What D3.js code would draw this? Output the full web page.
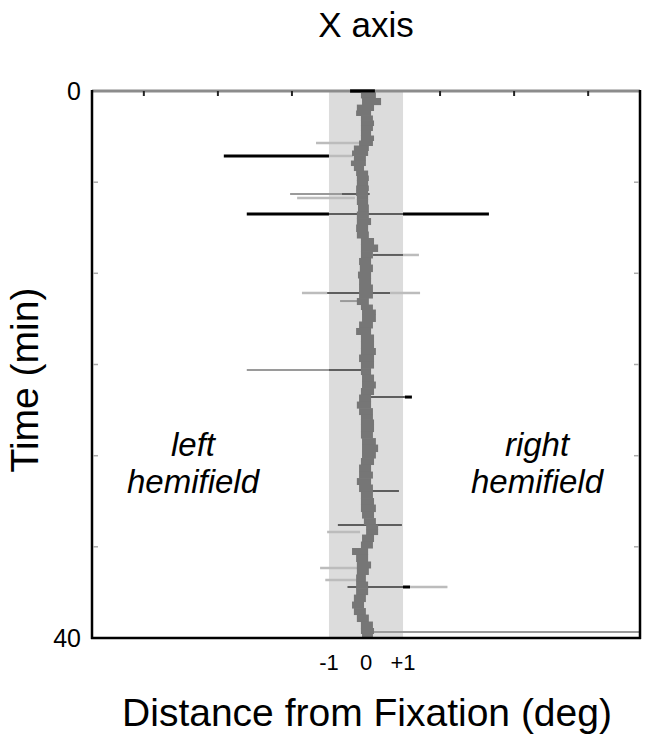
<!DOCTYPE html>
<html>
<head>
<meta charset="utf-8">
<script src="https://cdn.jsdelivr.net/npm/d3@7"></script>
<style>
  html, body { margin: 0; padding: 0; background: #fff; }
  svg { display: block; font-family: "Liberation Sans", Arial, sans-serif; }
</style>
</head>
<body>
<svg id="chart" width="647" height="739"></svg>
<script>
// ---------- data ----------
const xDomain = [-7.4, 7.4];          // degrees
const yDomain = [0, 40];              // minutes
const bandRange = [-1, 1];            // shaded fixation window (deg)
const xTopTicks = [-6, -4, -2, 2, 4, 6];
const xTickLabels = [{v: -1, s: "-1"}, {v: 0, s: "0"}, {v: 1, s: "+1"}];
const yTicks = [6.67, 13.33, 20, 26.67, 33.33];
const yTickLabels = [{v: 0, s: "0"}, {v: 40, s: "40"}];

// main eye-position trace: time (min), left & right extent (deg)
const traceTime = [0.27,0.75,1.24,1.61,1.97,2.34,2.71,3.07,3.44,3.80,4.17,4.53,4.90,5.27,5.63,6.00,6.36,6.73,7.09,7.46,7.82,8.04,8.56,9.07,9.51,10.02,10.53,10.97,11.48,11.99,12.43,12.95,13.46,13.89,14.41,14.92,15.36,15.87,16.09,16.60,17.11,17.55,18.06,18.58,19.01,19.53,20.04,20.48,20.99,21.50,21.94,22.45,22.97,23.41,23.91,24.13,24.65,25.16,25.60,26.11,26.62,27.06,27.57,28.09,28.52,29.03,29.55,29.98,30.50,31.01,31.45,31.96,32.18,32.69,33.20,33.64,34.15,34.66,35.10,35.61,36.13,36.57,37.08,37.59,38.03,38.54,39.05,39.49,39.85];
const traceLo = [-0.11,-0.08,-0.22,-0.24,-0.11,-0.11,-0.11,-0.11,-0.11,-0.16,-0.30,-0.35,-0.30,-0.38,-0.30,-0.24,-0.22,-0.22,-0.24,-0.24,-0.22,-0.22,-0.19,-0.22,-0.22,-0.24,-0.22,-0.11,-0.11,-0.11,-0.16,-0.14,-0.19,-0.16,-0.16,-0.16,-0.22,-0.11,-0.08,-0.08,-0.16,-0.24,-0.11,-0.11,-0.11,-0.16,-0.11,-0.11,-0.08,-0.08,-0.11,-0.16,-0.22,-0.16,-0.11,-0.11,-0.11,-0.11,-0.08,-0.08,-0.08,-0.11,-0.16,-0.16,-0.22,-0.16,-0.11,-0.11,-0.11,-0.08,-0.03,0.03,0.03,-0.08,-0.11,-0.35,-0.24,-0.22,-0.22,-0.24,-0.24,-0.24,-0.30,-0.35,-0.30,-0.22,-0.11,-0.11,-0.08];
const traceHi = [0.24,0.38,0.19,0.11,0.16,0.19,0.16,0.11,0.19,0.16,0.05,0.03,-0.03,-0.03,-0.08,0.03,0.05,0.03,0.05,0.03,0.03,0.03,0.05,0.05,0.11,0.03,0.05,0.19,0.30,0.16,0.11,0.16,0.11,0.11,0.16,0.16,0.05,0.16,0.24,0.24,0.16,0.11,0.19,0.19,0.24,0.19,0.19,0.11,0.19,0.24,0.19,0.11,0.11,0.16,0.16,0.19,0.19,0.16,0.24,0.30,0.24,0.19,0.11,0.16,0.11,0.16,0.16,0.19,0.24,0.19,0.24,0.30,0.30,0.19,0.16,0.03,0.03,0.11,0.05,-0.03,0.03,0.03,-0.03,-0.08,-0.03,0.05,0.16,0.19,0.16];

// excursions (time, from deg, to deg, shade)
const excTime  = [0,    3.80, 4.75, 4.75, 7.53, 7.53, 7.82, 8.99, 8.99, 8.99, 11.99, 11.99, 14.77, 14.77, 14.77, 15.36, 20.40, 20.40, 22.38, 22.38, 29.25, 31.74, 32.25, 34.88, 35.76, 36.27, 36.27, 36.27, 39.56];
const excFrom  = [-0.43,-1.35,-3.84,-1.00,-2.05,-0.65,-1.86,-3.22,-1.00, 1.00, 0.19,  1.00, -1.73, -1.05,  0.65, -0.70, -3.22, -1.00,  0.10,  1.05, -0.08, -0.76, -1.05, -1.24, -1.10, -0.50,  1.00,  1.19,  0.19];
const excTo    = [0.24, -0.08,-1.00,-0.35,-0.65, 0.10,-0.30,-1.00, 1.00, 3.32, 1.00,  1.43, -1.05,  0.65,  1.46, -0.08, -1.00, -0.08,  1.05,  1.24,  0.89,  0.97, -0.16, -0.24, -0.24,  1.00,  1.19,  2.20,  7.40];
const excShade = ["black","light","black","light","mid","dark","light","black","dark","black","dark","light","light","dark","light","mid","mid","dark","dark","black","dark","dark","light","light","light","dark","black","light","mid"];

// ---------- drawing ----------
const svg = d3.select("#chart");
const x = d3.scaleLinear().domain(xDomain).range([92, 640]);
const y = d3.scaleLinear().domain(yDomain).range([91, 638]);

const shadeColor = {black: "#000", dark: "#5e5e5e", mid: "#9a9a9a", light: "#bcbcbc"};
const shadeWidth = {black: 3, dark: 2, mid: 2, light: 2.5};

// fixation band
svg.append("rect")
  .attr("x", x(bandRange[0])).attr("y", y(yDomain[0]))
  .attr("width", x(bandRange[1]) - x(bandRange[0]))
  .attr("height", y(yDomain[1]) - y(yDomain[0]))
  .attr("fill", "#dcdcdc");

// excursions
const exc = excTime.map((t, i) => ({t, a: excFrom[i], b: excTo[i], s: excShade[i]}));
svg.append("g").selectAll("line").data(exc).join("line")
  .attr("x1", d => x(d.a)).attr("x2", d => x(d.b))
  .attr("y1", d => y(d.t)).attr("y2", d => y(d.t))
  .attr("stroke", d => shadeColor[d.s])
  .attr("stroke-width", d => shadeWidth[d.s]);

// trace
const trace = traceTime.map((t, i) => {
  const prev = i > 0 ? (traceTime[i - 1] + t) / 2 : 0;
  const next = i < traceTime.length - 1 ? (traceTime[i + 1] + t) / 2 : 40;
  return {t0: prev, t1: next, lo: traceLo[i], hi: traceHi[i]};
});
svg.append("g").selectAll("rect").data(trace).join("rect")
  .attr("x", d => x(d.lo) - 1).attr("width", d => Math.max(2, x(d.hi) - x(d.lo)) + 2)
  .attr("y", d => y(d.t0)).attr("height", d => y(d.t1) - y(d.t0) + 0.5)
  .attr("fill", "#767676");

// frame
svg.append("line").attr("x1", 92).attr("x2", 640).attr("y1", y(0)).attr("y2", y(0))
  .attr("stroke", "#8c8c8c").attr("stroke-width", 3);
svg.append("line").attr("x1", 92).attr("x2", 92).attr("y1", y(0) - 1).attr("y2", y(40) + 1)
  .attr("stroke", "#000").attr("stroke-width", 2.5);
svg.append("line").attr("x1", 640).attr("x2", 640).attr("y1", y(0) - 1).attr("y2", y(40) + 1)
  .attr("stroke", "#000").attr("stroke-width", 2.5);
svg.append("line").attr("x1", 91).attr("x2", 641).attr("y1", y(40)).attr("y2", y(40))
  .attr("stroke", "#000").attr("stroke-width", 2.5);
// the t=0 black segment sits on the top border
svg.append("line").attr("x1", x(excFrom[0])).attr("x2", x(excTo[0]))
  .attr("y1", y(0)).attr("y2", y(0)).attr("stroke", "#000").attr("stroke-width", 3);

// top ticks
svg.append("g").selectAll("line").data(xTopTicks).join("line")
  .attr("x1", d => x(d)).attr("x2", d => x(d))
  .attr("y1", y(0)).attr("y2", y(0) + 5)
  .attr("stroke", "#222").attr("stroke-width", 2);

// left / right ticks
svg.append("g").selectAll("line").data(yTicks).join("line")
  .attr("x1", 93).attr("x2", 98).attr("y1", d => y(d)).attr("y2", d => y(d))
  .attr("stroke", "#aaa").attr("stroke-width", 1.5);
svg.append("g").selectAll("line").data(yTicks).join("line")
  .attr("x1", 634).attr("x2", 639).attr("y1", d => y(d)).attr("y2", d => y(d))
  .attr("stroke", "#aaa").attr("stroke-width", 1.5);

// tick labels
svg.append("g").selectAll("text").data(yTickLabels).join("text")
  .attr("x", 81).attr("y", d => y(d.v) + 9)
  .attr("text-anchor", "end").attr("font-size", 25).text(d => d.s);
svg.append("g").selectAll("text").data(xTickLabels).join("text")
  .attr("x", d => x(d.v)).attr("y", 670)
  .attr("text-anchor", "middle").attr("font-size", 22).text(d => d.s);

// titles
svg.append("text").attr("x", 366).attr("y", 37).attr("text-anchor", "middle")
  .attr("font-size", 35).text("X axis");
svg.append("text").attr("x", 367).attr("y", 726).attr("text-anchor", "middle")
  .attr("font-size", 39).text("Distance from Fixation (deg)");
svg.append("text").attr("transform", "translate(38,380) rotate(-90)")
  .attr("text-anchor", "middle").attr("font-size", 39).text("Time (min)");

// hemifield labels
const hemi = [{cx: 193, w: "left"}, {cx: 537, w: "right"}];
hemi.forEach(h => {
  const t = svg.append("text").attr("text-anchor", "middle")
    .attr("font-size", 33).attr("font-style", "italic");
  t.append("tspan").attr("x", h.cx).attr("y", 456).text(h.w);
  t.append("tspan").attr("x", h.cx).attr("y", 493).text("hemifield");
});
</script>
</body>
</html>
